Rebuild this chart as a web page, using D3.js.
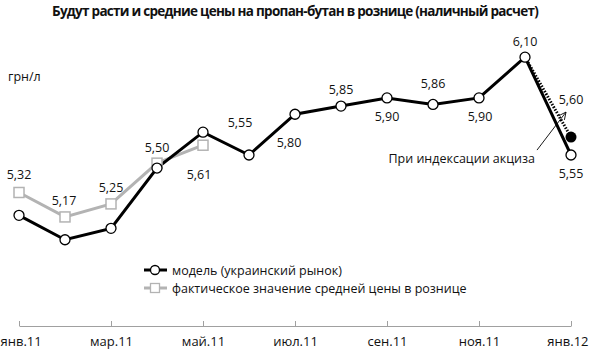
<!DOCTYPE html>
<html><head><meta charset="utf-8">
<script src="https://cdn.jsdelivr.net/npm/d3@7"></script>
<style>
html,body{margin:0;padding:0;background:#fff;}
text{font-family:"Open Sans","Noto Sans",sans-serif;fill:#111;}
</style></head>
<body><svg id="chart" width="590" height="354"></svg>
<script>
// ---- data ----
const months = ["янв.11","фев.11","мар.11","апр.11","май.11","июн.11","июл.11","авг.11","сен.11","окт.11","ноя.11","дек.11","янв.12"];
const tickLabels = ["янв.11","мар.11","май.11","июл.11","сен.11","ноя.11","янв.12"];
const modelValues = [5.18,5.03,5.10,5.47,5.69,5.55,5.80,5.85,5.90,5.86,5.90,6.15,5.55];
const modelLabels = [null,null,null,null,null,"5,55","5,80","5,85","5,90","5,86","5,90","6,10","5,55"];
const actualMonths = ["янв.11","фев.11","мар.11","апр.11","май.11"];
const actualValues = [5.32,5.17,5.25,5.50,5.61];
const actualLabels = ["5,32","5,17","5,25","5,50","5,61"];
const exciseMonth = "янв.12";
const exciseValue = 5.66;
const exciseLabel = "5,60";
const seriesNames = ["модель (украинский рынок)","фактическое значение средней цены в рознице"];
const title = "Будут расти и средние цены на пропан-бутан в рознице (наличный расчет)";
const unitLabel = "грн/л";
const annotation = "При индексации акциза";

// label placement (dx, dy of label centre from point)
const modelLabelOffsets = [null,null,null,null,null,[-9,-33],[-6,28],[0,-17],[0,19],[0,-21],[1,19],[0,-16],[0,18]];
const actualLabelOffsets = [[0,-18],[-1,-16],[0,-16],[0,-16],[-4,29]];

const svg = d3.select("#chart");
const W = 590;
const x = d3.scalePoint().domain(months).range([19,571]);
const y = d3.scaleLinear().domain([5.0,6.2]).range([244.65,49.05]);

// title (fit to ~486px with tightened spacing, no glyph stretching)
const tt = svg.append("text").attr("x",295).attr("y",16).attr("text-anchor","middle")
  .attr("font-size",13.5).attr("font-weight","bold")
  .style("font-family","'Open Sans',sans-serif").text(title);
{
  const w = tt.node().getComputedTextLength();
  const target = 486;
  if (w > target) tt.style("letter-spacing", ((target - w) / title.length).toFixed(3) + "px");
}
svg.append("text").attr("x",8).attr("y",81).attr("font-size",12.5).text(unitLabel);

// axis
const axis = d3.axisBottom(x).tickValues(tickLabels).tickSizeInner(-5).tickSizeOuter(0).tickPadding(11);
const gx = svg.append("g").attr("transform","translate(0,326)").call(axis);
gx.select(".domain").attr("stroke","#a0a0a0");
gx.selectAll(".tick line").attr("stroke","#a0a0a0");
gx.selectAll(".tick text").attr("font-size",13).attr("font-family","Open Sans").attr("fill","#111");
// keep edge labels inside the picture
gx.selectAll(".tick").each(function(){
  const g = d3.select(this), t = g.select("text");
  const tx = +g.attr("transform").match(/translate\(([-\d.]+)/)[1];
  const bb = t.node().getBBox();
  let dx = 0;
  if (tx + bb.x < 0.5) dx = 0.5 - (tx + bb.x);
  if (tx + bb.x + bb.width > W - 1.5) dx = (W - 1.5) - (tx + bb.x + bb.width);
  if (dx) t.attr("x", dx);
});

const line = d3.line();

// actual series
const actualPts = actualMonths.map((m,i)=>[x(m), y(actualValues[i])]);
svg.append("path").attr("d",line(actualPts)).attr("fill","none").attr("stroke","#b3b3b3").attr("stroke-width",3);

// model series
const modelPts = months.map((m,i)=>[x(m), y(modelValues[i])]);
svg.append("path").attr("d",line(modelPts)).attr("fill","none").attr("stroke","#000").attr("stroke-width",3);

// dotted excise line
const excisePt = [x(exciseMonth), y(exciseValue)];
svg.append("path").attr("d",line([modelPts[11], excisePt])).attr("fill","none")
  .attr("stroke","#000").attr("stroke-width",3).attr("stroke-dasharray","1.5,1.5");

// actual markers
svg.selectAll(".sq").data(actualPts).enter().append("rect")
  .attr("x",d=>d[0]-5).attr("y",d=>d[1]-5).attr("width",10).attr("height",10)
  .attr("fill","#fff").attr("stroke","#b3b3b3").attr("stroke-width",1.5);

// model markers
svg.selectAll(".ci").data(modelPts).enter().append("circle")
  .attr("cx",d=>d[0]).attr("cy",d=>d[1]).attr("r",5)
  .attr("fill","#fff").attr("stroke","#000").attr("stroke-width",1.3);

svg.append("circle").attr("cx",excisePt[0]).attr("cy",excisePt[1]).attr("r",5.5).attr("fill","#000");

// value labels
const fs = 12.5;
actualPts.forEach((p,i)=>{
  const o = actualLabelOffsets[i];
  svg.append("text").attr("x",p[0]+o[0]).attr("y",p[1]+o[1]+4.5).attr("text-anchor","middle")
    .attr("font-size",fs).text(actualLabels[i]);
});
modelPts.forEach((p,i)=>{
  if(!modelLabels[i]) return;
  const o = modelLabelOffsets[i];
  svg.append("text").attr("x",p[0]+o[0]).attr("y",p[1]+o[1]+4.5).attr("text-anchor","middle")
    .attr("font-size",fs).text(modelLabels[i]);
});
svg.append("text").attr("x",excisePt[0]).attr("y",excisePt[1]-38+4.5).attr("text-anchor","middle")
  .attr("font-size",fs).text(exciseLabel);

// annotation + arrow
const ax0 = excisePt[0]-34, ay0 = excisePt[1]+13, ax1 = excisePt[0]-5, ay1 = excisePt[1]-25;
svg.append("line").attr("x1",ax0).attr("y1",ay0).attr("x2",ax1).attr("y2",ay1).attr("stroke","#000").attr("stroke-width",0.9);
const ang = Math.atan2(ay1-ay0, ax1-ax0);
const hl = 8, ha = 0.45;
svg.append("path").attr("d",`M${ax1-hl*Math.cos(ang-ha)},${ay1-hl*Math.sin(ang-ha)}L${ax1},${ay1}L${ax1-hl*Math.cos(ang+ha)},${ay1-hl*Math.sin(ang+ha)}`)
  .attr("fill","none").attr("stroke","#000").attr("stroke-width",0.9);
svg.append("text").attr("x",excisePt[0]-36).attr("y",excisePt[1]+26).attr("text-anchor","end")
  .attr("font-size",12.5).text(annotation);

// legend
const lg = svg.append("g");
const l1y = 270, l2y = 288;
lg.append("line").attr("x1",144).attr("x2",167).attr("y1",l1y).attr("y2",l1y).attr("stroke","#000").attr("stroke-width",3);
lg.append("circle").attr("cx",155).attr("cy",l1y).attr("r",4.5).attr("fill","#fff").attr("stroke","#000").attr("stroke-width",1.3);
lg.append("text").attr("x",172).attr("y",l1y+4.5).attr("font-size",12.5).text(seriesNames[0]);
lg.append("line").attr("x1",144).attr("x2",167).attr("y1",l2y).attr("y2",l2y).attr("stroke","#b3b3b3").attr("stroke-width",3);
lg.append("rect").attr("x",150.5).attr("y",l2y-4.5).attr("width",9).attr("height",9).attr("fill","#fff").attr("stroke","#b3b3b3").attr("stroke-width",1.3);
lg.append("text").attr("x",172).attr("y",l2y+4.5).attr("font-size",12.5).text(seriesNames[1]);
</script></body></html>
